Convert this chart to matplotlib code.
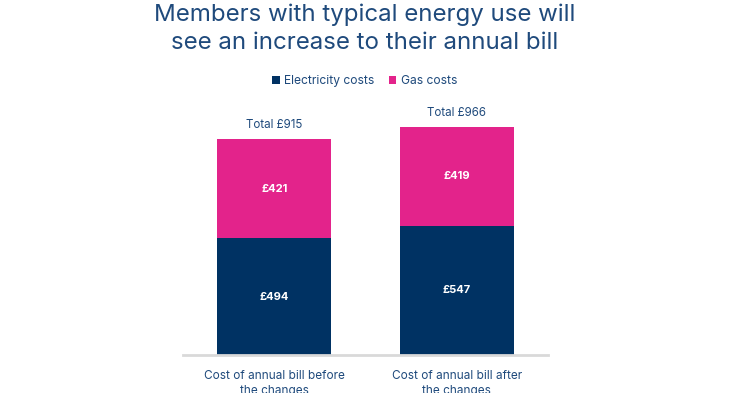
import matplotlib.pyplot as plt

plt.rcParams['font.family'] = ['Inter', 'DejaVu Sans']

categories = ['Cost of annual bill before\nthe changes', 'Cost of annual bill after\nthe changes']
electricity = [494, 547]
gas = [421, 419]
totals = [915, 966]

NAVY = '#003263'
PINK = '#E3238B'
TEXT = '#1F4A7C'

fig = plt.figure(figsize=(7.3, 3.93), dpi=100)
ax = fig.add_axes([0.2507, 0.0967, 0.5, 0.6488])

x = range(len(categories))
ax.bar(x, electricity, width=0.625, color=NAVY, label='Electricity costs')
ax.bar(x, gas, width=0.625, bottom=electricity, color=PINK, label='Gas costs')

for i in x:
    ax.text(i, electricity[i] / 2, f'£{electricity[i]}', ha='center', va='center',
            color='white', fontsize=8, fontweight='bold')
    ax.text(i, electricity[i] + gas[i] / 2, f'£{gas[i]}', ha='center', va='center',
            color='white', fontsize=8, fontweight='bold')
    ax.text(i, totals[i] + 59, f'Total £{totals[i]}', ha='center', va='center',
            color=TEXT, fontsize=8.3)

ax.set_xlim(-0.5, 1.5)
ax.set_ylim(0, 1080)
ax.set_yticks([])
ax.set_xticks(list(x))
ax.set_xticklabels(categories, color=TEXT, fontsize=8.5, linespacing=1.3)
ax.tick_params(axis='x', length=0, pad=11)
for side in ['top', 'right', 'left']:
    ax.spines[side].set_visible(False)
ax.spines['bottom'].set_color('#d9d9d9')
ax.spines['bottom'].set_linewidth(2)

fig.text(0.5, 1 - 15 / 393, 'Members with typical energy use will',
         ha='center', va='center', color=TEXT, fontsize=17.3)
fig.text(0.5, 1 - 43 / 393, 'see an increase to their annual bill',
         ha='center', va='center', color=TEXT, fontsize=17.3)

fig.legend(loc='center', bbox_to_anchor=(0.5, 1 - 81 / 393), ncol=2, frameon=False,
           fontsize=8.7, handlelength=0.6, handleheight=0.6, handletextpad=0.4,
           columnspacing=1.2, labelcolor=TEXT)

fig.savefig('out.png', dpi=100)
